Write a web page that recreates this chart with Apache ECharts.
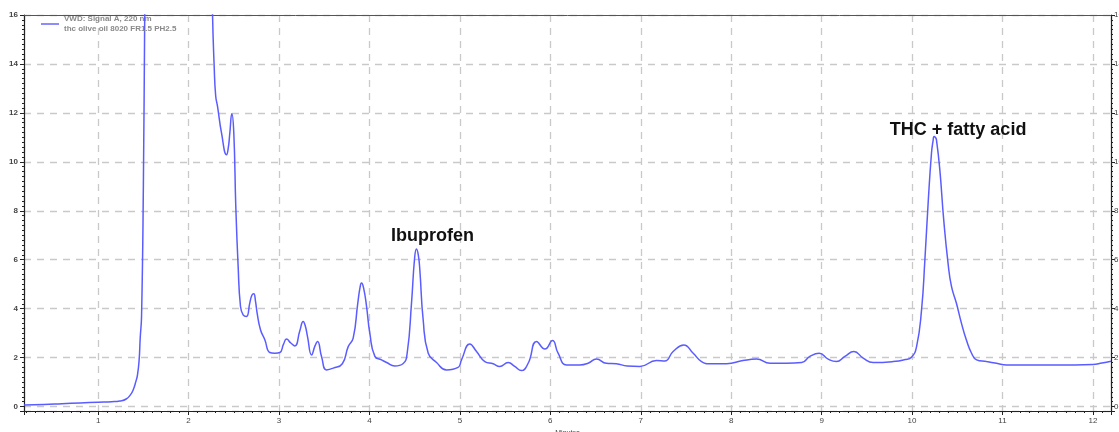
<!DOCTYPE html>
<html>
<head>
<meta charset="utf-8">
<script src="https://cdn.jsdelivr.net/npm/echarts@6/dist/echarts.min.js"></script>
<style>
  html, body { margin: 0; padding: 0; background: #fff; }
  #chart { width: 1119px; height: 432px; }
</style>
</head>
<body>
<div id="chart"></div>
<script>
// Retention time (minutes) and detector response for the 220 nm trace
const retentionTimes = [
  0.18, 0.4, 0.6, 0.8, 1.0, 1.15, 1.24, 1.31, 1.36, 1.387, 1.415, 1.435, 1.453, 1.465, 1.48,
  1.5, 1.515, 1.53, 1.6, 2.2, 2.25, 2.265, 2.283, 2.30, 2.32, 2.364, 2.42, 2.44, 2.456, 2.478,
  2.50, 2.522, 2.548, 2.574, 2.603, 2.64, 2.677, 2.70, 2.721, 2.74, 2.758, 2.795, 2.843, 2.898, 2.954, 3.009,
  3.05, 3.083, 3.13, 3.175, 3.23, 3.267, 3.29, 3.315, 3.36, 3.4, 3.426, 3.47, 3.525, 3.6, 3.70, 3.765,
  3.82, 3.87, 3.895, 3.912, 3.935, 3.968, 4.004, 4.06, 4.133, 4.19, 4.28, 4.37, 4.417, 4.465, 4.50, 4.52, 4.54, 4.557, 4.594,
  4.65, 4.742, 4.852, 4.98, 5.018, 5.11, 5.184, 5.276, 5.368, 5.44, 5.534, 5.607, 5.68, 5.755,
  5.848, 5.94, 6.024, 6.086, 6.18, 6.326, 6.418, 6.51, 6.62, 6.73, 6.85, 6.99, 7.174, 7.266,
  7.358, 7.476, 7.58, 7.672, 7.764, 7.95, 8.13, 8.28, 8.43, 8.61, 8.78, 8.87, 8.973, 9.072,
  9.165, 9.257, 9.357, 9.46, 9.57, 9.79, 9.92, 9.994, 10.05, 10.105, 10.142, 10.178, 10.215,
  10.232, 10.244, 10.258, 10.27, 10.307, 10.35, 10.398, 10.436, 10.49, 10.546, 10.6, 10.658, 10.714, 10.824,
  10.935, 11.045, 11.17, 11.5, 11.8, 12.0, 12.1, 12.2
];
const signal = [
  0.07, 0.09, 0.12, 0.15, 0.18, 0.2, 0.23, 0.31, 0.5, 0.68, 1.0, 1.3, 1.9, 2.8, 3.7,
  9, 16, 22, 30, 30, 20, 16, 13.9, 12.68, 12.27, 11.18, 10.29, 10.6, 11.18, 11.97,
  11.18, 8.18, 5.73, 4.09, 3.75, 3.68, 4.24, 4.55, 4.61, 4.3, 3.82, 3.14, 2.73, 2.21, 2.18, 2.21,
  2.55, 2.76, 2.6, 2.48, 3.1, 3.48, 3.3, 2.86, 2.11, 2.5, 2.66, 2.05, 1.5, 1.57, 1.75, 2.45,
  2.8, 4.2, 4.85, 5.05, 4.85, 4.09, 3.0, 2.05, 1.91, 1.8, 1.66, 1.75, 2.18, 4.23, 6.1, 6.44, 6.2, 5.59, 3.55,
  2.18, 1.8, 1.5, 1.6, 1.91, 2.56, 2.25, 1.84, 1.75, 1.64, 1.8, 1.64, 1.47, 1.77,
  2.66, 2.35, 2.7, 2.18, 1.7, 1.7, 1.77, 1.94, 1.77, 1.75, 1.66, 1.64, 1.88, 1.86,
  2.25, 2.52, 2.18, 1.84, 1.75, 1.75, 1.88, 1.94, 1.77, 1.77, 1.8, 2.05, 2.18, 1.94,
  1.84, 2.05, 2.25, 1.98, 1.8, 1.84, 1.92, 2.02, 2.45, 3.95, 6.0, 8.32, 10.36,
  10.85, 11.04, 11.0, 10.9, 9.68, 7.64, 5.86, 4.91, 4.23, 3.41, 2.73, 2.18, 1.91, 1.84,
  1.77, 1.7, 1.7, 1.7, 1.7, 1.72, 1.78, 1.85
];

// Peak annotations
const peakNames = ['Ibuprofen', 'THC + fatty acid'];
const peakTimes = [4.52, 10.244];

const seriesName = 'VWD: Signal A, 220 nm\nthc olive oil 8020 FR1.5 PH2.5';
const axisMin = 0.18, axisMax = 12.2;
const signalMin = -0.18, signalMax = 16;

const points = retentionTimes.map((t, i) => [t, signal[i]]);
const peakOffsets = [[16, -13], [24, -6]];
const peakMarks = peakNames.map((name, i) => {
  const idx = retentionTimes.indexOf(peakTimes[i]);
  return {
    name: name,
    coord: [peakTimes[i], signal[idx]],
    label: { offset: peakOffsets[i] }
  };
});

const gridColor = '#c9c9c9';
const fontFamily = 'Liberation Sans, Arial, sans-serif';
const labelStyle = { fontSize: 8, color: '#444', fontFamily: fontFamily };

const chart = echarts.init(document.getElementById('chart'), null, { renderer: 'canvas' });
chart.setOption({
  animation: false,
  backgroundColor: '#fff',
  grid: { left: 24, right: 8, top: 15, bottom: 21, containLabel: false, outerBoundsMode: 'none' },
  legend: {
    data: [seriesName],
    left: 41,
    top: 14,
    padding: 0,
    icon: 'rect',
    itemWidth: 18,
    itemHeight: 2,
    itemGap: 5,
    itemStyle: { color: '#8c8cff' },
    textStyle: {
      fontSize: 8, lineHeight: 10, color: '#8a8a8a', fontWeight: 'bold', fontFamily: fontFamily
    }
  },
  xAxis: [{
    type: 'value',
    min: axisMin,
    max: axisMax,
    splitNumber: 12,
    name: 'Minutes',
    nameLocation: 'middle',
    nameGap: 17,
    nameTextStyle: { fontSize: 7, color: '#444', fontFamily: fontFamily },
    axisLine: { show: true, onZero: false, lineStyle: { color: '#222', width: 1.2 } },
    axisTick: { show: true, inside: false, length: 4, lineStyle: { color: '#222' } },
    minorTick: { show: true, splitNumber: 10, length: 2, lineStyle: { color: '#222' } },
    axisLabel: Object.assign({ showMinLabel: false, showMaxLabel: false, margin: 6 }, labelStyle),
    splitLine: { show: true, lineStyle: { color: gridColor, width: 1.3, type: [7, 6] } }
  }, {
    type: 'value',
    position: 'top',
    min: axisMin,
    max: axisMax,
    axisLine: { show: true, onZero: false, lineStyle: { color: '#555', width: 1 } },
    axisTick: { show: false },
    axisLabel: { show: false },
    splitLine: { show: false }
  }],
  yAxis: [{
    type: 'value',
    min: signalMin,
    max: signalMax,
    splitNumber: 8,
    axisLine: { show: true, onZero: false, lineStyle: { color: '#222', width: 1.2 } },
    axisTick: { show: true, inside: false, length: 4, lineStyle: { color: '#222' } },
    minorTick: { show: true, splitNumber: 10, length: 2, lineStyle: { color: '#222' } },
    axisLabel: Object.assign({ showMinLabel: false, margin: 6, fontWeight: 'bold' }, labelStyle),
    splitLine: { show: true, lineStyle: { color: gridColor, width: 1.3, type: [7, 6] } }
  }, {
    type: 'value',
    position: 'right',
    min: signalMin,
    max: signalMax,
    splitNumber: 8,
    axisLine: { show: true, onZero: false, lineStyle: { color: '#222', width: 1.2 } },
    axisTick: { show: true, inside: false, length: 4, lineStyle: { color: '#222' } },
    minorTick: { show: true, splitNumber: 10, length: 2, lineStyle: { color: '#222' } },
    axisLabel: Object.assign({ showMinLabel: false, margin: 3 }, labelStyle),
    splitLine: { show: false }
  }],
  series: [{
    name: seriesName,
    type: 'line',
    data: points,
    symbol: 'none',
    smooth: 0.5,
    clip: true,
    lineStyle: { color: '#5a5cff', width: 1.5 },
    itemStyle: { color: '#5a5cff' },
    markPoint: {
      symbol: 'circle',
      symbolSize: 0,
      label: {
        show: true,
        position: 'inside',
        formatter: '{b}',
        fontSize: 18,
        fontWeight: 'bold',
        color: '#111',
        fontFamily: fontFamily
      },
      data: peakMarks
    }
  }]
});
</script>
</body>
</html>
